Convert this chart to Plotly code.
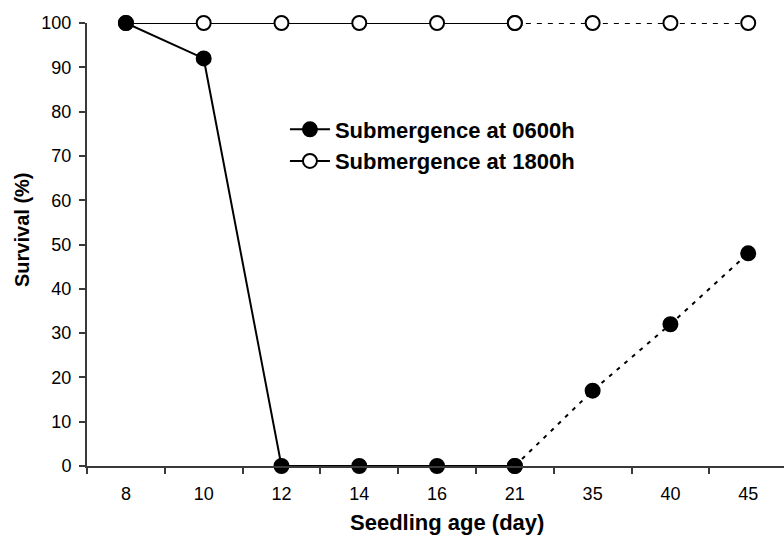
import plotly.graph_objects as go

ages = ["8", "10", "12", "14", "16", "21", "35", "40", "45"]
surv_0600 = [100, 92, 0, 0, 0, 0, 17, 32, 48]
surv_1800 = [100, 100, 100, 100, 100, 100, 100, 100, 100]
name_0600 = "Submergence at 0600h"
name_1800 = "Submergence at 1800h"
x_title = "Seedling age (day)"
y_title = "Survival (%)"
split = 5  # solid up to "21", dotted afterwards

fig = go.Figure()

def add_series(vals, name, fill, dash):
    marker = dict(size=14, color=fill, line=dict(color="black", width=2))
    fig.add_trace(go.Scatter(
        x=ages[:split + 1], y=vals[:split + 1], mode="lines+markers", name=name,
        line=dict(color="black", width=2), marker=marker, cliponaxis=False,
        legendgroup=name))
    fig.add_trace(go.Scatter(
        x=ages[split:], y=vals[split:], mode="lines+markers", name=name,
        line=dict(color="black", width=2, dash=dash), marker=marker,
        cliponaxis=False, showlegend=False, legendgroup=name))

add_series(surv_1800, name_1800, "white", "5px,6px")
add_series(surv_0600, name_0600, "black", "4px,6px")

font_family = "Liberation Sans, Arial, sans-serif"
fig.update_layout(
    width=784, height=539,
    margin=dict(l=87, r=0, t=23, b=73),
    plot_bgcolor="white", paper_bgcolor="white",
    font=dict(family=font_family, color="black", size=18),
    legend=dict(x=0.284, y=0.807, xanchor="left", yanchor="top",
                traceorder="reversed",
                font=dict(size=22, family=font_family, weight="bold"),
                bgcolor="rgba(0,0,0,0)", itemwidth=40, tracegroupgap=0),
    xaxis=dict(
        type="category", categoryorder="array", categoryarray=ages,
        range=[-0.5, 8.46], showline=True, linecolor="#3a3a3a", linewidth=2,
        ticks="outside", tickson="boundaries", ticklen=6, tickcolor="#3a3a3a",
        tickwidth=1.5, showgrid=False, zeroline=False,
        tickfont=dict(size=18), ticklabelstandoff=10),
    yaxis=dict(
        range=[0, 100], dtick=10, showline=True, linecolor="#3a3a3a", linewidth=2,
        ticks="outside", ticklen=6, tickcolor="#3a3a3a", tickwidth=1.5,
        showgrid=False, zeroline=False, tickfont=dict(size=18),
        ticklabelstandoff=4),
    annotations=[
        dict(text="<b>" + x_title + "</b>", xref="paper", yref="paper",
             x=(447 - 87) / 697, y=-(522 - 466) / 443, xanchor="center",
             yanchor="middle", showarrow=False, font=dict(size=22)),
        dict(text="<b>" + y_title + "</b>", xref="paper", yref="paper",
             x=(22 - 87) / 697, y=(466 - 230) / 443, xanchor="center",
             yanchor="middle", showarrow=False, textangle=-90,
             font=dict(size=20)),
    ],
)

fig.write_html("out.html")
